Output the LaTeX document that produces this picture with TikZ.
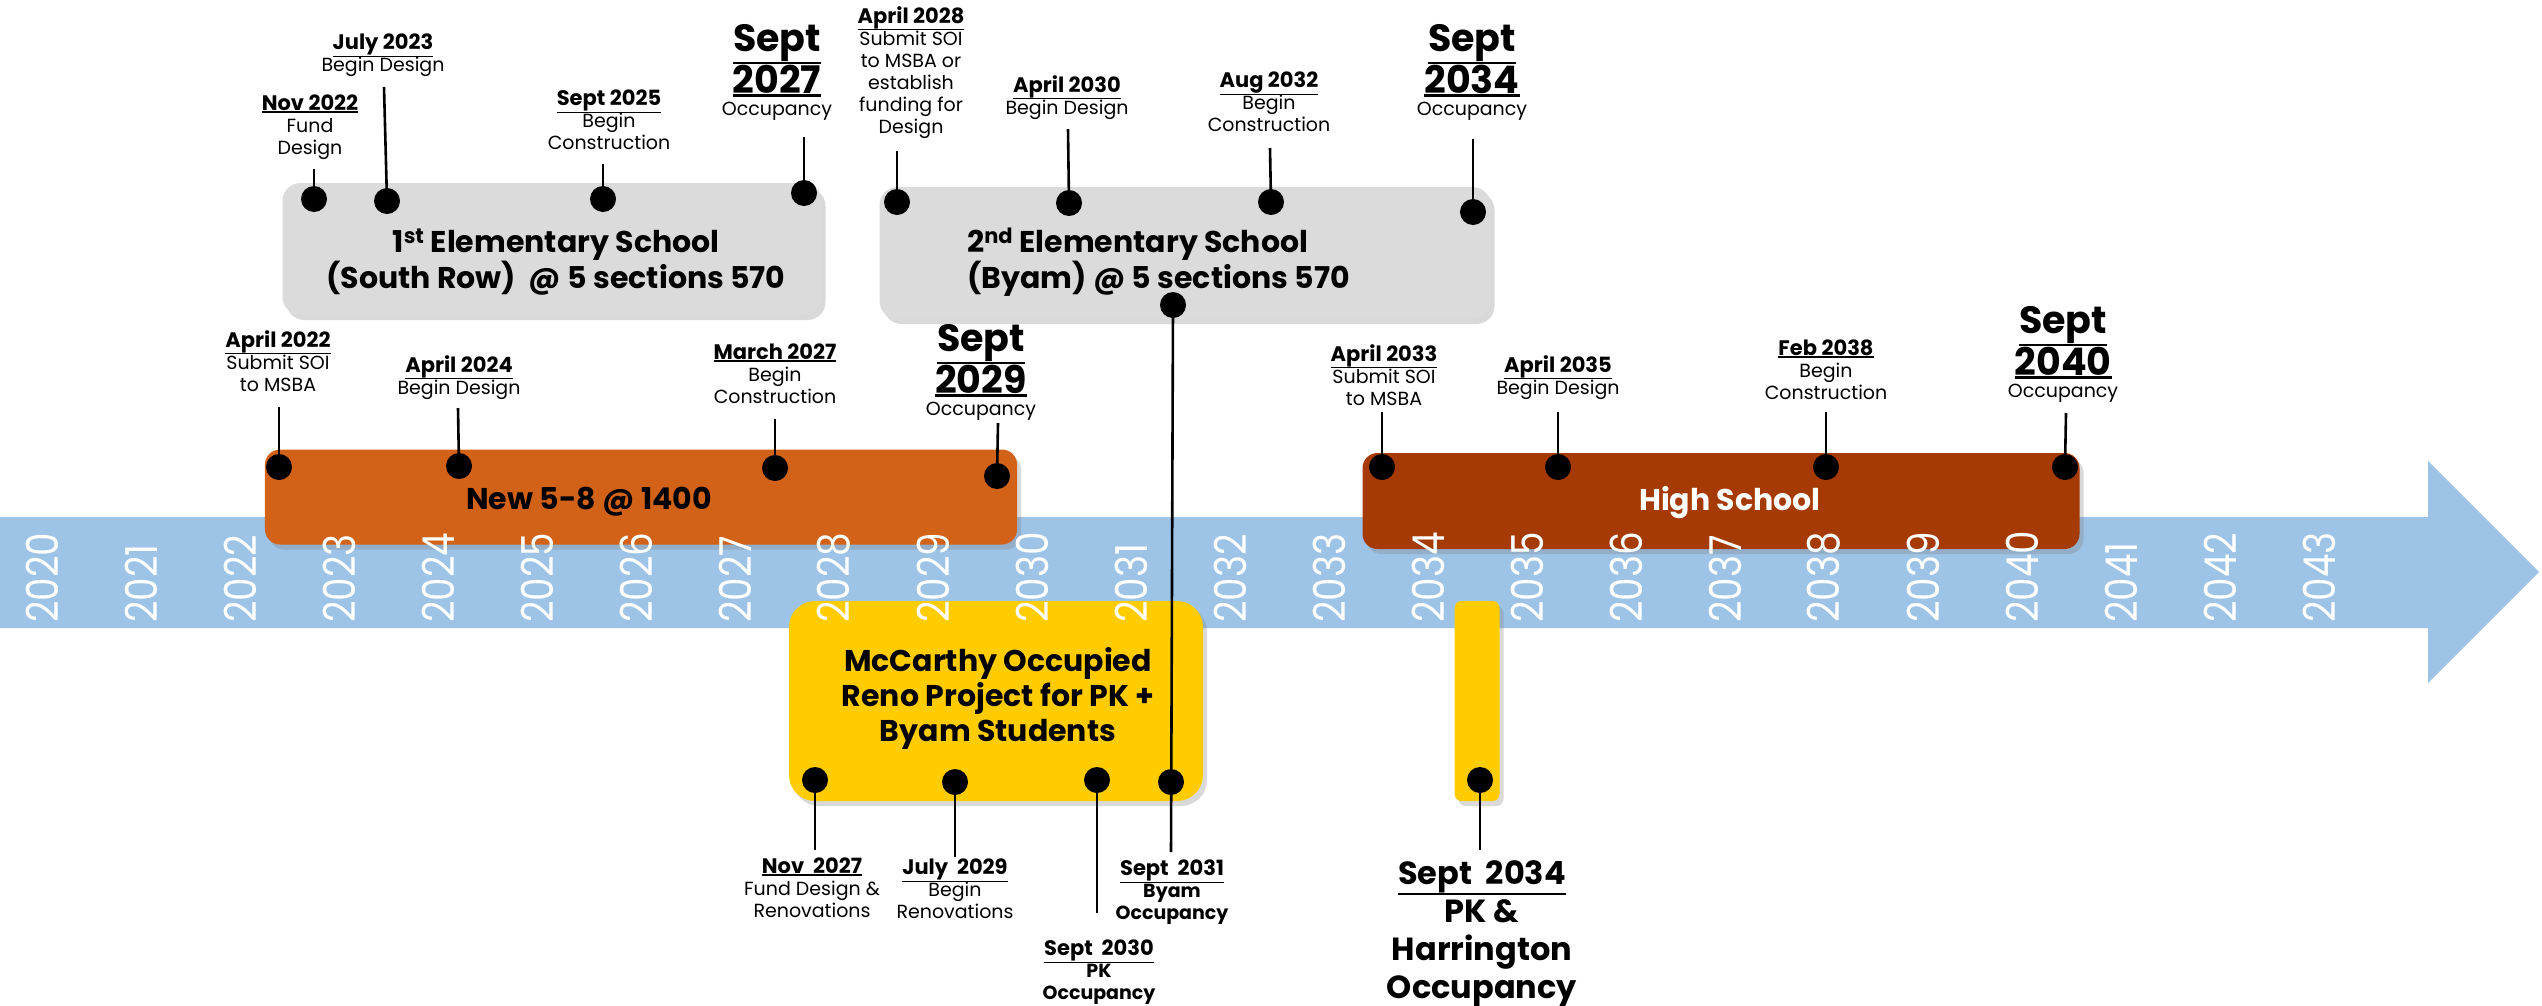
\documentclass[tikz,border=0pt]{standalone}
\usepackage{fontspec}
\setmainfont{Poppins}
\usetikzlibrary{shadows}

\definecolor{bandblue}{RGB}{157,195,230}
\definecolor{esgray}{RGB}{220,219,219}
\definecolor{msorange}{RGB}{210,98,24}
\definecolor{hsbrown}{RGB}{166,58,4}
\definecolor{renoyellow}{RGB}{255,204,0}

\newcommand\setfs[2]{\fontsize{#1bp}{#2bp}\selectfont}
% underlined text with a rule sitting just under the box
\newcommand\udate[1]{\setbox0\hbox{#1}\rlap{\rule[-\dimexpr\dp0+0.08em\relax]{\wd0}{0.075em}}\box0}
\newcommand\datetxt[1]{{\setfs{21}{24}\bfseries\udate{#1}}}
\newcommand\bigdate[1]{{\setfs{38}{46}\bfseries\udate{#1}}}

\begin{document}
\begin{tikzpicture}[x=1bp,y=-1bp,
  dot/.style={circle, fill=black, minimum size=26bp, inner sep=0},
  stem/.style={line width=2.6bp, black},
  lbl/.style={align=center, inner sep=0, anchor=north, font=\setfs{19}{22}},
  yr/.style={rotate=90, anchor=west, inner sep=0, text=white, font=\setfs{44}{44}},
  box/.style={rounded corners=18bp, inner sep=0,
    drop shadow={shadow xshift=4bp, shadow yshift=-5bp, opacity=0.3}},
  title/.style={font=\setfs{30}{35}\bfseries, align=center, inner sep=0},
]
\useasboundingbox (0,0) rectangle (2542,1005);

% timeline arrow
\fill[bandblue] (0,517) -- (2428,517) -- (2428,461) -- (2539,572)
  -- (2428,683) -- (2428,628) -- (0,628) -- cycle;

% project boxes
\node[box, fill=esgray, minimum width=539bp, minimum height=132bp] (esA) at (552,249) {};
\node[box, fill=esgray, minimum width=611bp, minimum height=132bp] (esB) at (1185,253) {};
\node[box, fill=msorange, rounded corners=15bp, minimum width=752bp, minimum height=95bp] (ms) at (641,497) {};
\node[box, fill=hsbrown, rounded corners=15bp, minimum width=717bp, minimum height=96bp] (hs) at (1721,501) {};
\node[box, fill=renoyellow, rounded corners=26bp, minimum width=414bp, minimum height=200bp] (reno) at (996,701) {};
\node[box, fill=renoyellow, rounded corners=7bp, minimum width=45bp, minimum height=200bp] (pkbar) at (1477,701) {};

% box titles
\node[title] (esAt) at (556,262) {1\textsuperscript{st} Elementary School\\(South Row)~~@ 5 sections 570};
\node[title, align=left, anchor=west] (esBt) at (967,262) {2\textsuperscript{nd} Elementary School\\(Byam) @ 5 sections 570};
\node[title] (mst) at (589,502) {New 5-8 @ 1400};
\node[title, text=white] (hst) at (1730,503) {High School};
\node[title] (renot) at (998,698) {McCarthy Occupied\\Reno Project for PK +\\Byam Students};

% year labels
\foreach \i in {0,...,23}{
  \pgfmathtruncatemacro\yy{2020+\i}
  \node[yr] (yr\yy) at (42+99*\i,623) {\scalebox{0.85}[1]{\yy}};
}

% milestone dots
\foreach \n/\px/\py in {d1/314/199, d2/387/201, d3/603/199, d4/804/193,
    d5/897/202, d6/1069/203, d7/1271/202, d8/1473/212, dB/1173/305,
    d9/279/467, d10/459/466, d11/775/468, d12/997/476,
    d13/1382/467, d14/1558/467, d15/1826/467, d16/2065/467,
    d17/815/780, d18/955/782, d19/1097/780, d20/1171/782, d21/1480/780}
  \node[dot] (\n) at (\px,\py) {};

% stem ends
\foreach \n/\px/\py in {s1/314/169, s2/384/87, s3/603/164, s4/804/137,
    s5/897/151, s6/1068/129, s7/1270/148, s8/1473/139,
    s9/279/407, s10/458/408, s11/775/419, s12/998/423,
    s13/1382/412, s14/1558/412, s15/1826/412, s16/2066/413,
    s17/815/850, s18/955/857, s19/1097/913, s20/1171/852, s21/1480/850}
  \coordinate (\n) at (\px,\py);

\foreach \k in {1,...,19,21}
  \draw[stem] (s\k) -- (d\k.center);
\draw[stem] (dB.center) -- (s20);

% labels above the first elementary school
\node[lbl] (l1) at (310,95) {\datetxt{Nov 2022}\\Fund\\Design};
\node[lbl] (l2) at (383,34) {\datetxt{July 2023}\\Begin Design};
\node[lbl] (l3) at (609,90) {\datetxt{Sept 2025}\\Begin\\Construction};
\node[lbl] (l4) at (777,24) {\bigdate{Sept}\\\bigdate{2027}\\Occupancy};

% labels above the second elementary school
\node[lbl] (l5) at (911,6) {\datetxt{April 2028}\\Submit SOI\\to MSBA or\\establish\\funding for\\Design};
\node[lbl] (l6) at (1067,75) {\datetxt{April 2030}\\Begin Design};
\node[lbl] (l7) at (1269,72) {\datetxt{Aug 2032}\\Begin\\Construction};
\node[lbl] (l8) at (1472,24) {\bigdate{Sept}\\\bigdate{2034}\\Occupancy};

% labels above the middle school
\node[lbl] (l9) at (278,330) {\datetxt{April 2022}\\Submit SOI\\to MSBA};
\node[lbl] (l10) at (459,355) {\datetxt{April 2024}\\Begin Design};
\node[lbl] (l11) at (775,344) {\datetxt{March 2027}\\Begin\\Construction};
\node[lbl] (l12) at (981,324) {\bigdate{Sept}\\\bigdate{2029}\\Occupancy};

% labels above the high school
\node[lbl] (l13) at (1384,344) {\datetxt{April 2033}\\Submit SOI\\to MSBA};
\node[lbl] (l14) at (1558,355) {\datetxt{April 2035}\\Begin Design};
\node[lbl] (l15) at (1826,340) {\datetxt{Feb 2038}\\Begin\\Construction};
\node[lbl] (l16) at (2063,306) {\bigdate{Sept}\\\bigdate{2040}\\Occupancy};

% labels below the renovation project
\node[lbl] (l17) at (812,858) {\datetxt{Nov~~2027}\\Fund Design \&\\Renovations};
\node[lbl] (l18) at (955,859) {\datetxt{July~~2029}\\Begin\\Renovations};
\node[lbl, font=\setfs{19}{22}\bfseries] (l19) at (1099,940) {\datetxt{Sept~~2030}\\PK\\Occupancy};
\node[lbl, font=\setfs{19}{22}\bfseries] (l20) at (1172,860) {\datetxt{Sept~~2031}\\Byam\\Occupancy};
\node[lbl, font=\setfs{32}{38}\bfseries] (l21) at (1482,860) {\udate{Sept~~2034}\\PK \&\\Harrington\\Occupancy};
\end{tikzpicture}
\end{document}
